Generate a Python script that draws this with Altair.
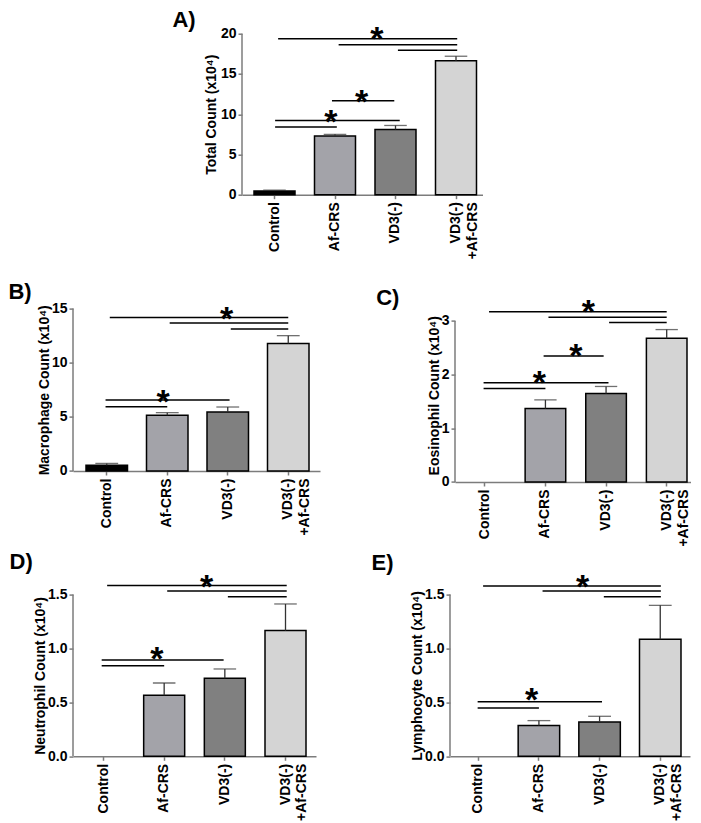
import altair as alt
import pandas as pd

cats = ["Control", "Af-CRS", "VD3(-)", "VD3(-)+Af-CRS"]
bar_colors = ["#000000", "#a3a3a9", "#808080", "#d4d4d4"]
axis_gray = "#7c7c7c"

# bar means and upper error values (x10^4)
a_mean = [0.45, 7.3, 8.1, 16.65]
a_upper = [0.55, 7.5, 8.6, 17.2]
b_mean = [0.52, 5.14, 5.45, 11.77]
b_upper = [0.70, 5.39, 5.91, 12.5]
c_mean = [0.0, 1.37, 1.65, 2.68]
c_upper = [0.0, 1.53, 1.78, 2.84]
d_mean = [0.0, 0.566, 0.724, 1.166]
d_upper = [0.0, 0.68, 0.81, 1.413]
e_mean = [0.0, 0.285, 0.319, 1.086]
e_upper = [0.0, 0.331, 0.371, 1.40]

# significance lines (category index from / to, height) and asterisks
a_sig_from = [0.06, 1.06, 2.04, 0.95, 0.01, 0.01]
a_sig_to = [3.02, 3.02, 3.02, 1.98, 2.07, 1.03]
a_sig_y = [19.38, 18.63, 17.93, 11.68, 9.23, 8.4]
a_star_x = [1.69, 1.44, 0.93]
a_star_y = [20.33, 12.55, 10.06]

b_sig_from = [0.05, 1.04, 2.05, -0.02, -0.02]
b_sig_to = [3.0, 3.0, 3.0, 2.03, 1.0]
b_sig_y = [14.17, 13.68, 13.12, 6.56, 5.94]
b_star_x = [1.98, 0.93]
b_star_y = [14.78, 7.08]

c_sig_from = [0.07, 1.05, 2.05, 0.97, -0.02, -0.02]
c_sig_to = [3.0, 3.0, 3.0, 1.96, 2.04, 1.0]
c_sig_y = [3.17, 3.07, 2.97, 2.35, 1.85, 1.74]
c_star_x = [1.71, 1.5, 0.9]
c_star_y = [3.31, 2.50, 1.99]

d_sig_from = [0.06, 1.05, 2.05, -0.03, -0.03]
d_sig_to = [3.02, 3.02, 3.02, 1.98, 1.0]
d_sig_y = [1.584, 1.534, 1.481, 0.894, 0.841]
d_star_x = [1.70, 0.88]
d_star_y = [1.645, 0.98]

e_sig_from = [0.08, 1.06, 2.07, -0.01, -0.01]
e_sig_to = [3.01, 3.01, 3.01, 2.04, 1.0]
e_sig_y = [1.58, 1.534, 1.48, 0.507, 0.448]
e_star_x = [1.72, 0.88]
e_star_y = [1.64, 0.594]

FONT = "Liberation Sans"
LBL = 14


def panel(letter, ytitle, mean, upper, sfrom, sto, sy, stx, sty, ymax, yticks, yfmt,
          W, H, L, R, bw, tdx, toff, tpad, extra=0.0):
    step = (W - L - R - bw) / 3.0
    pi = 1 - bw / step
    po = (L + R) / (2 * step)
    al = L / (L + R)
    c0 = L + bw / 2.0
    qscale = alt.Scale(domain=[-c0 / step, (W - c0) / step], nice=False, zero=False)
    dom_top = ymax * (H + extra) / H
    yscale = alt.Scale(domain=[0, dom_top], nice=False)
    bscale = alt.Scale(domain=cats, paddingInner=pi, paddingOuter=po, align=al)

    bar_df = pd.DataFrame({"cat": cats, "v": mean, "col": bar_colors})
    err_df = pd.DataFrame({"cat": cats, "v": upper, "lo": mean})
    sig_df = pd.DataFrame({"x1": sfrom, "x2": sto, "v": sy})
    star_df = pd.DataFrame({"x": stx, "v": sty})
    dom_df = pd.DataFrame({"v": [0.0], "v2": [ymax]})

    xaxis = alt.Axis(
        title=None, labelAngle=270, labelAlign="right", labelBaseline="middle",
        labelFont=FONT, labelFontSize=LBL, labelFontWeight="bold", labelColor="black",
        labelPadding=3, labelLineHeight=17,
        labelExpr="datum.label == 'VD3(-)+Af-CRS' ? ['VD3(-)', '+Af-CRS'] : datum.label",
        domainColor=axis_gray, domainWidth=1.5, tickColor=axis_gray, tickWidth=1.5, tickSize=4,
    )
    yaxis = alt.Axis(
        title=ytitle, values=yticks, format=yfmt, grid=False, domain=False,
        labelFont=FONT, labelFontSize=LBL, labelFontWeight="bold", labelColor="black",
        labelPadding=2, titleFont=FONT, titleFontSize=LBL, titleFontWeight="bold",
        titleColor="black", titlePadding=tpad,
        tickColor=axis_gray, tickWidth=1.5, tickSize=4,
    )

    bars = alt.Chart(bar_df).transform_filter("datum.v > 0").mark_bar(
        stroke="black", strokeWidth=1.5
    ).encode(
        x=alt.X("cat:N", sort=cats, scale=bscale, axis=xaxis),
        y=alt.Y("v:Q", scale=yscale, axis=yaxis),
        color=alt.Color("col:N", scale=None),
    )
    errs = alt.Chart(err_df).transform_filter("datum.v > datum.lo").mark_rule(
        color="#333333", strokeWidth=1.3
    ).encode(x=alt.X("cat:N", sort=cats), y="v:Q", y2="lo:Q")
    caps = alt.Chart(err_df).transform_filter("datum.v > datum.lo").mark_tick(
        color="#333333", thickness=1.3, size=bw * 0.55
    ).encode(x=alt.X("cat:N", sort=cats), y="v:Q")

    yline = alt.Chart(dom_df).mark_rule(color=axis_gray, strokeWidth=1.5).encode(
        x=alt.value(0), y=alt.Y("v:Q", scale=yscale), y2="v2:Q"
    )
    rules = alt.Chart(sig_df).mark_rule(color="black", strokeWidth=1.5).encode(
        x=alt.X("x1:Q", scale=qscale, axis=None), x2="x2:Q", y=alt.Y("v:Q", scale=yscale)
    )
    stars = alt.Chart(star_df).mark_text(
        text="*", font=FONT, fontSize=34, fontWeight="bold", baseline="middle",
        align="center", dy=9, color="black"
    ).encode(x=alt.X("x:Q", scale=qscale, axis=None), y=alt.Y("v:Q", scale=yscale))

    base = alt.layer(bars, errs, caps, yline)
    ann = alt.layer(rules, stars)
    return alt.layer(base, ann).resolve_scale(x="independent").properties(
        width=W, height=H + extra,
        title=alt.TitleParams(
            letter, anchor="start", font=FONT, fontSize=22, fontWeight="bold",
            color="black", dx=tdx, offset=toff, baseline="alphabetic",
        ),
    )


A = panel("A)", "Total Count (x10⁴)", a_mean, a_upper, a_sig_from, a_sig_to, a_sig_y,
          a_star_x, a_star_y, 20, [0, 5, 10, 15, 20], "d",
          240.5, 161, 12, 6, 41, -32, -26.2, 2)
B = panel("B)", "Macrophage Count (x10⁴)", b_mean, b_upper, b_sig_from, b_sig_to, b_sig_y,
          b_star_x, b_star_y, 15, [0, 5, 10, 15], "d",
          247, 162.4, 13, 11, 41.5, -29, -19.8, 0)
C = panel("C)", "Eosinophil Count (x10⁴)", c_mean, c_upper, c_sig_from, c_sig_to, c_sig_y,
          c_star_x, c_star_y, 3, [0, 1, 2, 3], "d",
          236, 161, 9.5, 4, 40.6, -51, -31, 0, extra=12.4)
D = panel("D)", "Neutrophil Count (x10⁴)", d_mean, d_upper, d_sig_from, d_sig_to, d_sig_y,
          d_star_x, d_star_y, 1.5, [0, 0.5, 1.0, 1.5], ".1f",
          243, 161.7, 10, 10, 41, -24, -20, 0)
E = panel("E)", "Lymphocyte Count (x10⁴)", e_mean, e_upper, e_sig_from, e_sig_to, e_sig_y,
          e_star_x, e_star_y, 1.5, [0, 0.5, 1.0, 1.5], ".1f",
          240, 161.7, 7.5, 9, 41.5, -39, -20.5, 0)

spacer = alt.Chart(pd.DataFrame({"z": [0]})).mark_point(opacity=0).properties(width=99, height=10)

top = alt.hconcat(spacer, A, spacing=0)
row2 = alt.hconcat(B, C, spacing=56)
row3 = alt.hconcat(D, E, spacing=55)
lower = alt.vconcat(row2, row3, spacing=4)

chart = alt.vconcat(top, lower, spacing=20.9).properties(
    padding={"left": 0, "top": 0.7, "right": 0, "bottom": 0}
).configure(font=FONT).configure_view(stroke=None)

chart.save("out.html", embed_options={"renderer": "svg", "actions": False})
